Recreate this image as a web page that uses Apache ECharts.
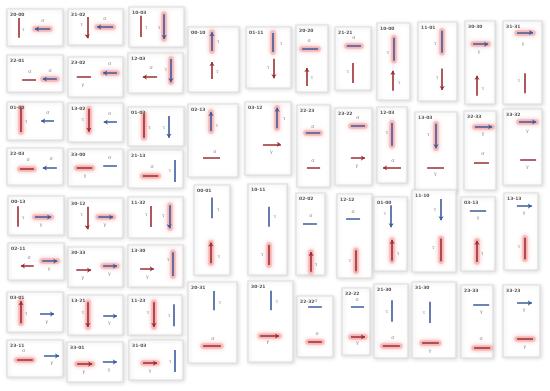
<!DOCTYPE html>
<html><head><meta charset="utf-8">
<script src="https://cdn.jsdelivr.net/npm/echarts@6/dist/echarts.min.js"></script>
<style>html,body{margin:0;padding:0;background:#fff}#c{width:550px;height:391px}</style>
</head><body><div id="c"></div>
<script>
// ---- DATA ----
const panelLabels = [
 '20-00','21-02','10-03','22-01','23-02','12-03','01-00','13-02','01-03','22-03','33-00','21-13',
 '00-13','30-12','11-32','02-11','30-33','13-30','03-01','13-21','11-23','23-11','33-01','31-03',
 '00-10','01-11','20-20','21-21','10-00','11-01','30-30','31-31',
 '02-13','03-12','22-23','23-22','12-03','13-03','32-33','33-32',
 '00-01','10-11','02-02','12-12','01-00','11-10','03-13','13-13',
 '20-31','30-21','22-32','32-22','21-30','31-30','23-33','33-23'
];
const R='r', B='b';
// each segment: [colour, x1, y1, x2, y2, arrowAtEnd, glow, label, labelX, labelY]  (panel units 0-100)
const panelSegments = [
 [[R,21,24,21,78,0,0,'τ',29,57],[B,77,54,50,54,1,1,'σ',64,32]],
 [[R,35,22,35,81,1,0,'τ',25,44],[B,82,50,53,50,1,1,'σ',67,28]],
 [[R,22,22,22,75,0,0,'τ',31,52],[B,64,18,64,80,1,1,'τ',55,52]],
 [[R,27,68,52,68,0,0,'σ',41,46],[B,89,65,64,65,1,1,'σ',77,43]],
 [[R,16,50,42,50,0,0,'γ',27,70],[B,89,40,64,40,1,1,'σ',76,18]],
 [[R,53,60,27,60,1,0,'σ',42,38],[B,78,15,78,73,1,1,'τ',69,43]],
 [[R,25,16,25,79,0,1,'τ',34,53],[B,84,50,61,50,1,0,'σ',73,29]],
 [[R,38,15,38,74,1,1,'τ',27,44],[B,89,49,65,49,1,0,'σ',76,28]],
 [[R,29,18,29,79,0,1,'τ',38,54],[B,73,23,73,79,1,0,'τ',64,54]],
 [[R,23,57,48,57,0,1,'σ',38,32],[B,89,54,64,54,1,0,'σ',79,30]],
 [[R,16,51,44,51,0,1,'γ',31,73],[B,64,46,89,46,0,0,'σ',76,24]],
 [[R,27,68,55,68,0,1,'σ',44,45],[B,85,26,85,84,0,0,'τ',76,55]],
 [[R,18,26,18,79,0,0,'τ',27,56],[B,48,54,77,54,1,1,'γ',59,74]],
 [[R,35,22,35,78,1,0,'τ',25,43],[B,55,48,82,48,1,1,'γ',67,68]],
 [[R,42,22,42,73,0,0,'τ',33,44],[B,75,20,75,76,1,1,'τ',64,46]],
 [[R,46,62,23,62,1,0,'σ',38,41],[B,61,49,88,49,1,1,'γ',73,70]],
 [[R,15,58,42,58,1,0,'γ',27,78],[B,64,48,89,48,1,1,'γ',75,68]],
 [[R,22,57,47,57,1,0,'γ',35,76],[B,82,17,82,74,0,1,'τ',73,36]],
 [[R,25,78,25,23,1,1,'τ',34,55],[B,59,55,84,55,1,0,'γ',71,75]],
 [[R,36,18,36,80,1,1,'τ',27,45],[B,64,53,89,53,1,0,'γ',75,70]],
 [[R,48,18,48,80,1,1,'τ',37,45],[B,85,23,85,78,0,0,'τ',76,53]],
 [[R,18,54,46,54,0,1,'σ',30,30],[B,66,43,93,43,1,0,'γ',80,62]],
 [[R,18,55,45,55,1,1,'γ',30,75],[B,64,50,89,50,1,0,'γ',75,70]],
 [[R,26,58,52,58,1,1,'γ',39,78],[B,85,25,85,80,0,0,'τ',76,55]],
 // right block
 [[B,47,37,47,8,1,1,'τ',59,23],[R,47,80,47,54,1,0,'τ',57,69]],
 [[B,60,10,60,41,0,1,'τ',78,28],[R,62,52,62,84,1,0,'τ',49,66]],
 [[B,19,36,69,36,0,1,'σ',41,24],[R,34,91,34,64,1,0,'τ',50,79]],
 [[B,33,30,72,30,0,1,'σ',53,17],[R,50,57,50,89,0,0,'τ',36,71]],
 [[B,52,19,52,49,0,1,'τ',33,38],[R,48,88,48,62,1,0,'τ',67,78]],
 [[B,62,11,62,39,0,1,'τ',44,27],[R,62,59,62,86,1,0,'τ',49,71]],
 [[B,27,28,77,28,1,1,'γ',47,37],[R,40,90,40,66,1,0,'τ',60,81]],
 [[B,36,14,77,14,1,1,'γ',51,27],[R,56,63,56,87,0,0,'τ',41,72]],
 [[B,46,37,46,11,1,1,'τ',58,30],[R,30,74,64,74,0,0,'σ',54,66]],
 [[B,70,36,70,8,1,1,'τ',85,23],[R,39,58,78,58,1,0,'γ',57,68]],
 [[B,27,34,70,34,0,1,'σ',48,26],[R,30,77,70,77,0,0,'σ',48,68]],
 [[B,43,23,81,23,0,1,'σ',62,13],[R,43,65,81,65,1,0,'γ',59,75]],
 [[B,50,21,50,51,0,1,'τ',33,34],[R,80,80,20,80,1,0,'σ',53,71]],
 [[B,50,15,50,46,1,1,'τ',31,29],[R,29,71,69,71,0,0,'γ',48,78]],
 [[B,34,20,88,20,1,1,'γ',59,29],[R,31,65,78,65,0,0,'σ',59,54]],
 [[B,41,17,85,17,1,1,'γ',62,28],[R,44,67,85,67,0,0,'γ',62,76]],
 [[B,50,14,50,37,0,0,'τ',67,27],[R,47,87,47,64,1,1,'τ',69,80]],
 [[B,54,25,54,47,0,0,'τ',69,36],[R,54,67,54,89,0,1,'τ',36,78]],
 [[B,24,37,72,37,0,0,'σ',52,28],[R,52,96,52,72,1,1,'τ',69,87]],
 [[B,26,29,66,29,0,0,'σ',46,21],[R,54,67,54,92,0,1,'τ',37,79]],
 [[B,52,11,52,41,1,0,'τ',33,23],[R,55,86,55,58,1,1,'τ',73,76]],
 [[B,66,11,66,37,1,0,'τ',52,24],[R,66,59,66,87,0,1,'τ',48,70]],
 [[B,26,19,74,19,0,0,'γ',50,28],[R,47,88,47,59,1,1,'τ',62,77]],
 [[B,38,17,82,17,1,0,'γ',59,26],[R,62,58,62,86,0,1,'τ',44,70]],
 [[B,53,11,53,35,0,0,'τ',65,25],[R,31,79,67,79,0,1,'σ',51,70]],
 [[B,51,12,51,36,0,0,'τ',64,26],[R,27,68,69,68,1,1,'γ',44,75]],
 [[B,31,18,69,18,0,0,'σ',53,7],[R,31,75,69,75,0,1,'σ',56,62]],
 [[B,32,28,79,28,0,0,'σ',54,18],[R,32,73,82,73,1,1,'γ',54,82]],
 [[B,53,22,53,51,0,0,'τ',38,38],[R,26,84,76,84,0,1,'σ',56,73]],
 [[B,41,26,41,54,0,0,'τ',27,41],[R,23,80,61,80,0,1,'γ',41,91]],
 [[B,38,27,88,27,0,0,'γ',63,37],[R,41,86,91,86,0,1,'σ',63,74]],
 [[B,38,25,78,25,1,0,'γ',57,35],[R,38,74,81,74,0,1,'γ',59,86]]
];
// ---- LAYOUT (panel boxes: left, top, width, height) ----
const panelBoxes = [
 [7,9,56,37],[68,9,55,36],[129,7,55,40],
 [7,55,56,37],[68,57,55,40],[128,53,55,40],
 [7,102,56,38],[68,103,55,39],[128,107,56,39],
 [7,148,56,37],[68,149,55,37],[128,150,55,38],
 [8,196,56,39],[68,198,55,40],[128,197,55,41],
 [8,243,56,37],[68,247,55,40],[128,245,55,42],
 [7,292,56,40],[68,295,55,40],[128,295,54,40],
 [7,340,56,37],[67,342,56,40],[129,340,54,40],
 [188,27,51,65],[246,27,45,61],[296,25,32,67],[335,27,36,63],[377,23,33,77],[418,22,39,79],[465,21,30,83],[503,21,39,83],
 [188,104,50,73],[245,102,46,73],[297,105,33,82],[335,108,37,77],[377,107,30,76],[415,112,42,79],[464,111,32,79],[503,109,39,76],
 [194,185,36,90],[248,184,39,91],[296,193,29,82],[337,194,35,84],[374,197,33,74],[412,190,44,82],[461,197,34,74],[504,193,34,77],
 [188,282,49,81],[248,281,45,81],[297,296,36,61],[342,288,28,67],[374,284,34,74],[412,282,44,76],[461,285,32,73],[503,285,37,72]
];
const COLORS = {r:'#9c2e33', b:'#3d5c9b'};

const grid=[], xAxis=[], yAxis=[], title=[], series=[];
panelLabels.forEach((lab,i)=>{
  const [x,y,w,h]=panelBoxes[i];
  grid.push({left:x,top:y,width:w,height:h,show:true,backgroundColor:'#fff',borderColor:'#dedede',borderWidth:1.2,
    shadowBlur:4,shadowColor:'rgba(0,0,0,0.14)',shadowOffsetX:1,shadowOffsetY:1});
  xAxis.push({gridIndex:i,type:'value',min:0,max:100,show:false});
  yAxis.push({gridIndex:i,type:'value',min:0,max:100,inverse:true,show:false});
  title.push({text:lab,left:x+3,top:y+3,padding:0,textStyle:{fontSize:4.5,fontWeight:'bold',color:'#555',fontFamily:'DejaVu Sans'}});
  panelSegments[i].forEach(s=>{
    const coords=[[s[1],s[2]],[s[3],s[4]]];
    if(s[6]) series.push({type:'lines',coordinateSystem:'cartesian2d',xAxisIndex:i,yAxisIndex:i,silent:true,z:2,symbol:'none',
      data:[{coords}],lineStyle:{color:'rgba(244,165,165,0.6)',width:5.5,cap:'round',opacity:1,shadowBlur:4,shadowColor:'rgba(240,125,125,0.9)'}});
    series.push({type:'lines',coordinateSystem:'cartesian2d',xAxisIndex:i,yAxisIndex:i,silent:true,z:3,
      symbol:s[5]?['none','arrow']:'none',symbolSize:4,
      data:[{coords}],lineStyle:{color:COLORS[s[0]],width:1.6,opacity:1}});
  });
  series.push({type:'scatter',xAxisIndex:i,yAxisIndex:i,silent:true,symbolSize:0,z:4,
    data:panelSegments[i].map(s=>[s[8],s[9],s[7]]),
    label:{show:true,position:'inside',formatter:p=>p.value[2],fontSize:5,color:'#666',fontFamily:'DejaVu Serif'}});
});

const chart=echarts.init(document.getElementById('c'),null,{renderer:'canvas'});
chart.setOption({animation:false,backgroundColor:'#fff',title,grid,xAxis,yAxis,series});
</script></body></html>
